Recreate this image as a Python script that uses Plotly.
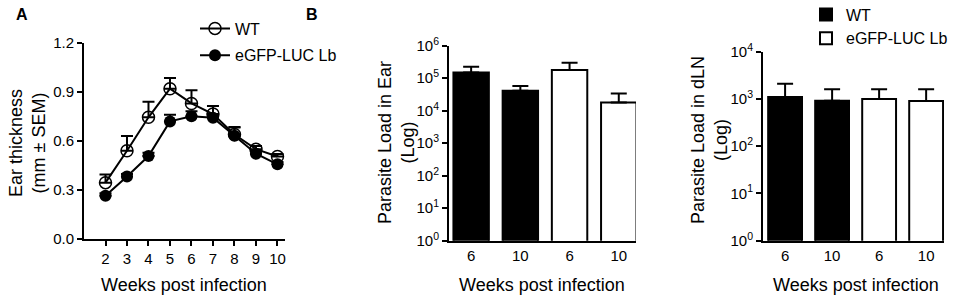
import plotly.graph_objects as go

# ---------------- data ----------------
weeks = [2, 3, 4, 5, 6, 7, 8, 9, 10]
wt_thick = [0.345, 0.54, 0.745, 0.92, 0.83, 0.765, 0.64, 0.55, 0.505]
wt_sem = [0.05, 0.09, 0.095, 0.065, 0.08, 0.05, 0.045, 0.02, 0.015]
luc_thick = [0.265, 0.383, 0.508, 0.72, 0.752, 0.742, 0.632, 0.522, 0.457]
luc_sem = [0.015, 0.015, 0.02, 0.04, 0.03, 0.02, 0.05, 0.02, 0.015]

bar_labels = ["6", "10", "6", "10"]
wt_pos = [0, 1]
luc_pos = [2, 3]

ear_wt = [1.5e5, 4.1e4]
ear_wt_err = [0.75e5, 1.7e4]
ear_luc = [1.8e5, 1.8e4]
ear_luc_err = [1.2e5, 1.6e4]

dln_wt = [1100, 920]
dln_wt_err = [1000, 680]
dln_luc = [1000, 910]
dln_luc_err = [600, 690]

log_vals_ear = [1, 10, 100, 1e3, 1e4, 1e5, 1e6]
log_text_ear = ["10<sup>%d</sup>" % i for i in range(7)]
log_vals_dln = [1, 10, 100, 1e3, 1e4]
log_text_dln = ["10<sup>%d</sup>" % i for i in range(5)]

x_title = "Weeks post infection"
y_title_a = "Ear thickness<br>(mm ± SEM)"
y_title_b1 = "Parasite Load in Ear<br>(Log)"
y_title_b2 = "Parasite Load in dLN<br>(Log)"

W, H = 957, 303
FONT = "Liberation Sans, Arial, sans-serif"


def px_x(a, b):
    return [a / W, b / W]


def px_y(top, bottom):
    return [1 - bottom / H, 1 - top / H]


fig = go.Figure()

# ---------------- panel A ----------------
fig.add_trace(go.Scatter(
    x=weeks, y=wt_thick, name="WT", mode="lines+markers", legendgroup="wt",
    line=dict(color="black", width=2),
    marker=dict(symbol="circle-open", size=12, color="black", line=dict(width=1.5, color="black")),
    error_y=dict(type="data", array=wt_sem, arrayminus=[0] * len(wt_sem), symmetric=False,
                 color="black", thickness=2, width=6),
    xaxis="x", yaxis="y", legend="legend",
))
fig.add_trace(go.Scatter(
    x=weeks, y=luc_thick, name="eGFP-LUC Lb", mode="lines+markers", legendgroup="luc",
    line=dict(color="black", width=2),
    marker=dict(symbol="circle", size=12, color="black"),
    error_y=dict(type="data", array=luc_sem, arrayminus=[0] * len(luc_sem), symmetric=False,
                 color="black", thickness=2, width=6),
    xaxis="x", yaxis="y", legend="legend",
))

# ---------------- panel B1 ----------------
bar_line = dict(color="black", width=2)
fig.add_trace(go.Bar(
    x=wt_pos, y=ear_wt, name="WT", width=0.72,
    marker=dict(color="black", line=bar_line),
    error_y=dict(type="data", array=ear_wt_err, arrayminus=[0, 0], symmetric=False,
                 color="black", thickness=2, width=8),
    xaxis="x2", yaxis="y2", showlegend=False,
))
fig.add_trace(go.Bar(
    x=luc_pos, y=ear_luc, name="eGFP-LUC Lb", width=0.72,
    marker=dict(color="white", line=bar_line),
    error_y=dict(type="data", array=ear_luc_err, arrayminus=[0, 0], symmetric=False,
                 color="black", thickness=2, width=8),
    xaxis="x2", yaxis="y2", showlegend=False,
))

# ---------------- panel B2 ----------------
fig.add_trace(go.Bar(
    x=wt_pos, y=dln_wt, name="WT", width=0.72,
    marker=dict(color="black", line=bar_line),
    error_y=dict(type="data", array=dln_wt_err, arrayminus=[0, 0], symmetric=False,
                 color="black", thickness=2, width=8),
    xaxis="x3", yaxis="y3", legend="legend2",
))
fig.add_trace(go.Bar(
    x=luc_pos, y=dln_luc, name="eGFP-LUC Lb", width=0.72,
    marker=dict(color="white", line=bar_line),
    error_y=dict(type="data", array=dln_luc_err, arrayminus=[0, 0], symmetric=False,
                 color="black", thickness=2, width=8),
    xaxis="x3", yaxis="y3", legend="legend2",
))

axis_common = dict(showline=True, linecolor="black", linewidth=2, ticks="outside",
                   ticklen=5, tickwidth=2, tickcolor="black", showgrid=False, zeroline=False,
                   automargin=False,
                   tickfont=dict(size=15, color="black", family=FONT))
xbar_common = {**axis_common, "ticks": ""}

title_font = dict(size=18, color="black", family=FONT)


def ann(text, x, y, angle=0, font=title_font):
    return dict(text=text, x=x / W, y=1 - y / H, xref="paper", yref="paper",
                xanchor="center", yanchor="middle", showarrow=False, textangle=angle,
                font=font)


label_font = dict(size=16, color="black", family=FONT)

fig.update_layout(
    width=W, height=H, margin=dict(l=0, r=0, t=0, b=0, autoexpand=False),
    paper_bgcolor="white", plot_bgcolor="white",
    font=dict(family=FONT, color="black"),
    barmode="overlay",
    xaxis=dict(domain=px_x(84, 285), range=[1.0, 10.35], tickvals=weeks, anchor="y", **axis_common),
    yaxis=dict(domain=px_y(43, 239), range=[0, 1.2], tickvals=[0, 0.3, 0.6, 0.9, 1.2],
               ticktext=["0.0", "0.3", "0.6", "0.9", "1.2"], anchor="x", **axis_common),
    xaxis2=dict(domain=px_x(449, 636), range=[-0.45, 3.35], tickvals=[0, 1, 2, 3], ticktext=bar_labels,
                anchor="y2", **xbar_common),
    yaxis2=dict(domain=px_y(45.7, 240.7), type="log", range=[0, 6], tickvals=log_vals_ear,
                ticktext=log_text_ear, anchor="x2", **axis_common),
    xaxis3=dict(domain=px_x(763, 944), range=[-0.47, 3.38], tickvals=[0, 1, 2, 3], ticktext=bar_labels,
                anchor="y3", **xbar_common),
    yaxis3=dict(domain=px_y(51.7, 240.7), type="log", range=[0, 4], tickvals=log_vals_dln,
                ticktext=log_text_dln, anchor="x3", **axis_common),
    legend=dict(x=195 / W, y=1 - 11.5 / H, xanchor="left", yanchor="top",
                font=dict(size=16, color="black", family=FONT), bgcolor="rgba(0,0,0,0)",
                tracegroupgap=3),
    legend2=dict(x=806 / W, y=1 + 2.5 / H, xanchor="left", yanchor="top",
                 font=dict(size=16, color="black", family=FONT), bgcolor="rgba(0,0,0,0)"),
    annotations=[
        ann("<b>A</b>", 22, 14, font=label_font),
        ann("<b>B</b>", 312, 14, font=label_font),
        ann(x_title, 184, 285),
        ann(x_title, 542, 285),
        ann(x_title, 856, 285),
        ann(y_title_a, 27, 143, -90),
        ann(y_title_b1, 396, 143, -90),
        ann(y_title_b2, 709, 140, -90),
    ],
)

fig.write_html("out.html", config={"displayModeBar": False},
               post_script="document.body.style.margin='0';")
